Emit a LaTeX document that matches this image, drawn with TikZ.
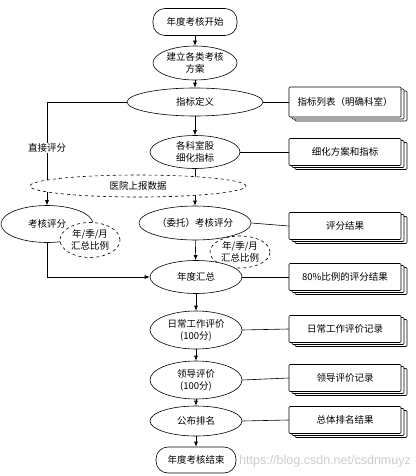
\documentclass[tikz,border=0pt]{standalone}
\usepackage{fontspec}
\setmainfont{Noto Sans CJK SC}
\newfontfamily\wmfont{Liberation Sans}
\usetikzlibrary{shapes.geometric,arrows.meta,shadows}
\pgfdeclarelayer{bg}
\pgfsetlayers{bg,main}
\tikzset{
  base/.style={draw=black, line width=0.6pt, fill=white, font=\fontsize{9.5}{12}\selectfont, align=center, inner sep=0pt},
  term/.style={base, rounded corners=12pt, minimum width=84pt, minimum height=27pt},
  oval/.style={base, ellipse, minimum width=92pt, minimum height=34pt},
  dashoval/.style={base, ellipse, dashed},
  docbox/.style={base, rounded corners=1pt, minimum width=112pt, minimum height=28pt,
    double copy shadow={shadow xshift=3pt, shadow yshift=-2pt, draw=black, fill=white}},
  conn/.style={draw=black, line width=0.6pt},
  arr/.style={conn, -{Latex[length=5pt,width=4pt]}},
  lbl/.style={fill=white, font=\fontsize{9.5}{12}\selectfont, inner sep=1pt}
}
\begin{document}
\begin{tikzpicture}[x=1pt,y=-1pt]
\useasboundingbox (0,0) rectangle (415,476);
% main column
\node[term] (start) at (195,22) {年度考核开始};
\node[oval, minimum width=84pt, minimum height=34pt] (plan) at (195,63) {建立各类考核\\方案};
\node[oval, minimum width=136pt, minimum height=28pt] (def) at (195,102) {指标定义};
\node[oval, minimum width=90pt, minimum height=33pt] (refine) at (195,152) {各科室股\\细化指标};
\node[dashoval, minimum width=216pt, minimum height=22pt] (report) at (138,186) {医院上报数据};
\node[oval, minimum width=92pt, minimum height=37pt] (score1) at (47,224) {考核评分};
\node[dashoval, minimum width=60pt, minimum height=35pt] (ratio1) at (90,240) {年/季/月\\汇总比例};
\node[oval, minimum width=112pt, minimum height=34pt] (score2) at (195,223) {（委托）考核评分};
\node[dashoval, minimum width=60pt, minimum height=32pt] (ratio2) at (240,252) {年/季/月\\汇总比例};
\node[oval, minimum width=92pt, minimum height=33pt] (annual) at (196,277) {年度汇总};
\node[oval, minimum width=92pt, minimum height=38pt] (daily) at (196,330) {日常工作评价\\(100分)};
\node[oval, minimum width=92pt, minimum height=38pt] (leader) at (196,380) {领导评价\\(100分)};
\node[oval, minimum width=92pt, minimum height=30pt] (publish) at (196,421) {公布排名};
\node[term, minimum width=80pt, minimum height=26pt] (end) at (196,460) {年度考核结束};
% document boxes
\node[docbox, minimum height=30pt] (b1) at (345,102) {指标列表（明确科室）};
\node[docbox, minimum height=27pt] (b2) at (345,152) {细化方案和指标};
\node[docbox, minimum height=27pt] (b3) at (345,226) {评分结果};
\node[docbox, minimum height=27pt] (b4) at (345,277) {80\%比例的评分结果};
\node[docbox, minimum height=27pt] (b5) at (345,329) {日常工作评价记录};
\node[docbox, minimum height=27pt] (b6) at (345,378) {领导评价记录};
\node[docbox, minimum height=27pt] (b7) at (345,420) {总体排名结果};
% connectors under the nodes
\begin{pgfonlayer}{bg}
\draw[arr] (def.west) -| (score1.north);
\draw[arr] (refine.south) -- (score2.north);
\end{pgfonlayer}
\node[lbl] (direct) at (47,148) {直接评分};
\draw[arr] (start) -- (plan);
\draw[arr] (plan) -- (def);
\draw[arr] (def) -- (refine);
\draw[arr] (score1.south) |- (annual.west);
\draw[arr] (score2) -- (annual);
\draw[arr] (annual) -- (daily);
\draw[arr] (daily) -- (leader);
\draw[arr] (leader) -- (publish);
\draw[arr] (publish) -- (end);
\draw[conn] (def.east) -- (b1.west);
\draw[conn] (refine.east) -- (b2.west);
\draw[conn] (score2.east) -- (b3.west);
\draw[conn] (annual.east) -- (b4.west);
\draw[conn] (daily.east) -- (b5.west);
\draw[conn] (leader.east) -- (b6.west);
\draw[conn] (publish.east) -- (b7.west);
% watermark
\node[anchor=west, text=gray!50, opacity=0.8, inner sep=0pt, font=\wmfont\fontsize{12.5}{13}\selectfont] (wm) at (239,461) {https://blog.csdn.net/csdnmuyz};
\end{tikzpicture}
\end{document}
